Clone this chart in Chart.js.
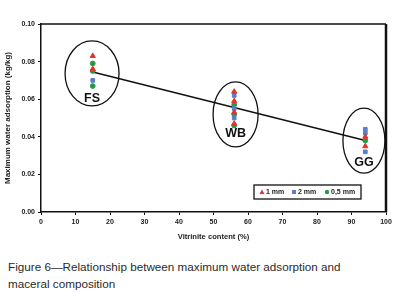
<!DOCTYPE html>
<html><head><meta charset="utf-8">
<script src="https://cdn.jsdelivr.net/npm/chart.js@4/dist/chart.umd.min.js"></script>
<style>
html,body{margin:0;padding:0;background:#fff;}
#wrap{position:relative;width:395px;height:300px;overflow:hidden;}
#c{position:absolute;left:0;top:0;}
#cap{position:absolute;left:8px;top:258px;font-family:"Liberation Sans",Arial,sans-serif;font-size:11.7px;line-height:17px;color:#2a2a2a;}
</style></head>
<body><div id="wrap"><canvas id="c" width="395" height="245"></canvas>
<div id="cap">Figure 6—Relationship between maximum water adsorption and<br>maceral composition</div></div>
<script>
const seriesLabels = ['1 mm', '2 mm', '0,5 mm'];
const x1mm = [15, 15, 56, 56, 56, 56, 94, 94];
const y1mm = [0.083, 0.076, 0.064, 0.059, 0.053, 0.047, 0.040, 0.035];
const x2mm = [15, 56, 56, 56, 94, 94, 94];
const y2mm = [0.070, 0.062, 0.055, 0.050, 0.044, 0.042, 0.032];
const x05mm = [15, 15, 15, 56, 56, 56, 94];
const y05mm = [0.079, 0.075, 0.067, 0.057, 0.052, 0.046, 0.038];
const trendX = [15, 94];
const trendY = [0.0745, 0.038];
const groupLabels = ['FS', 'WB', 'GG'];
const groupX = [14.8, 56.4, 93.6];
const groupY = [0.0737, 0.0519, 0.038];
const xTicks = [0, 10, 20, 30, 40, 50, 60, 70, 80, 90, 100];
const yTicks = [0, 0.02, 0.04, 0.06, 0.08, 0.10];

const colors = ['#e2342b', '#5a7ec8', '#259a44'];
const shapes = ['triangle', 'rect', 'circle'];
const pts = (xs, ys) => xs.map((x, i) => ({x, y: ys[i]}));

const ellipseSize = [[27, 32.5], [22.5, 32.5], [21, 32.5]];
const labelOffset = [25.5, 19.5, 21.5];
const FONT = '"Liberation Sans", Arial, sans-serif';

const decor = {
  id: 'decor',
  afterDatasetsDraw(chart) {
    const {ctx, chartArea: a, scales: {x, y}} = chart;
    ctx.save();
    ctx.strokeStyle = '#111';
    ctx.lineWidth = 1.5;
    ctx.beginPath();
    ctx.moveTo(a.left, a.top); ctx.lineTo(a.right, a.top);
    ctx.stroke();
    ctx.lineWidth = 2.5;
    ctx.beginPath();
    ctx.moveTo(a.right, a.top); ctx.lineTo(a.right, a.bottom);
    ctx.stroke();
    groupLabels.forEach((lab, i) => {
      const cx = x.getPixelForValue(groupX[i]);
      const cy = y.getPixelForValue(groupY[i]);
      ctx.lineWidth = 1.3;
      ctx.strokeStyle = '#111';
      ctx.beginPath();
      ctx.ellipse(cx, cy, ellipseSize[i][0], ellipseSize[i][1], 0, 0, Math.PI * 2);
      ctx.stroke();
      ctx.fillStyle = '#111';
      ctx.font = 'bold 12.5px ' + FONT;
      ctx.textAlign = 'center';
      ctx.textBaseline = 'middle';
      ctx.fillText(lab, cx, cy + labelOffset[i]);
    });
    const bx = 254, by = 185, bw = 107, bh = 14;
    ctx.lineWidth = 1.3;
    ctx.strokeStyle = '#111';
    ctx.strokeRect(bx, by, bw, bh);
    const itemX = [262, 294, 327];
    ctx.font = 'bold 7px ' + FONT;
    ctx.textAlign = 'left';
    ctx.textBaseline = 'middle';
    seriesLabels.forEach((lab, i) => {
      const mx = itemX[i], my = by + bh / 2;
      ctx.fillStyle = colors[i];
      ctx.beginPath();
      if (i === 0) { ctx.moveTo(mx, my - 2.5); ctx.lineTo(mx + 2.5, my + 2); ctx.lineTo(mx - 2.5, my + 2); ctx.closePath(); ctx.fill(); }
      else if (i === 1) { ctx.fillRect(mx - 2, my - 2, 4, 4); }
      else { ctx.arc(mx, my, 2.2, 0, Math.PI * 2); ctx.fill(); }
      ctx.fillStyle = '#222';
      ctx.fillText(lab, mx + 4, my);
    });
    ctx.restore();
  }
};

new Chart(document.getElementById('c'), {
  type: 'scatter',
  data: {
    datasets: [
      {type: 'line', label: 'trend', data: pts(trendX, trendY), borderColor: '#111', borderWidth: 1.5, pointRadius: 0, fill: false, order: 5},
      {label: seriesLabels[0], data: pts(x1mm, y1mm), pointStyle: shapes[0], backgroundColor: colors[0], borderColor: colors[0], pointRadius: 3, order: 1},
      {label: seriesLabels[1], data: pts(x2mm, y2mm), pointStyle: shapes[1], backgroundColor: colors[1], borderColor: colors[1], pointRadius: 2.6, order: 2},
      {label: seriesLabels[2], data: pts(x05mm, y05mm), pointStyle: shapes[2], backgroundColor: colors[2], borderColor: colors[2], pointRadius: 2.4, order: 3}
    ]
  },
  options: {
    responsive: false,
    animation: false,
    layout: {padding: {top: 24, right: 9, left: 0, bottom: 0}},
    plugins: {legend: {display: false}, tooltip: {enabled: false}},
    scales: {
      x: {
        type: 'linear', min: 0, max: 100,
        afterBuildTicks: s => { s.ticks = xTicks.map(v => ({value: v})); },
        afterFit: s => { s.height = 33; },
        grid: {drawOnChartArea: false, drawTicks: true, tickLength: 3, color: '#111'},
        border: {display: true, color: '#111', width: 1.5},
        ticks: {color: '#222', font: {family: FONT, size: 7, weight: 'bold'}, padding: 3, maxRotation: 0},
        title: {display: true, text: 'Vitrinite content (%)', color: '#222', font: {family: FONT, size: 7.6, weight: 'bold'}, padding: {top: 2, bottom: 4}}
      },
      y: {
        type: 'linear', min: 0, max: 0.1,
        afterBuildTicks: s => { s.ticks = yTicks.map(v => ({value: v})); },
        afterFit: s => { s.width = 41; },
        grid: {drawOnChartArea: false, drawTicks: true, tickLength: 3, color: '#111'},
        border: {display: true, color: '#111', width: 1.5},
        ticks: {color: '#222', font: {family: FONT, size: 7, weight: 'bold'}, padding: 3, callback: v => v.toFixed(2)},
        title: {display: true, text: 'Maximum water adsorption (kg/kg)', color: '#222', font: {family: FONT, size: 8, weight: 'bold'}, padding: {top: 3, bottom: 2}}
      }
    }
  },
  plugins: [decor]
});
</script></body></html>
